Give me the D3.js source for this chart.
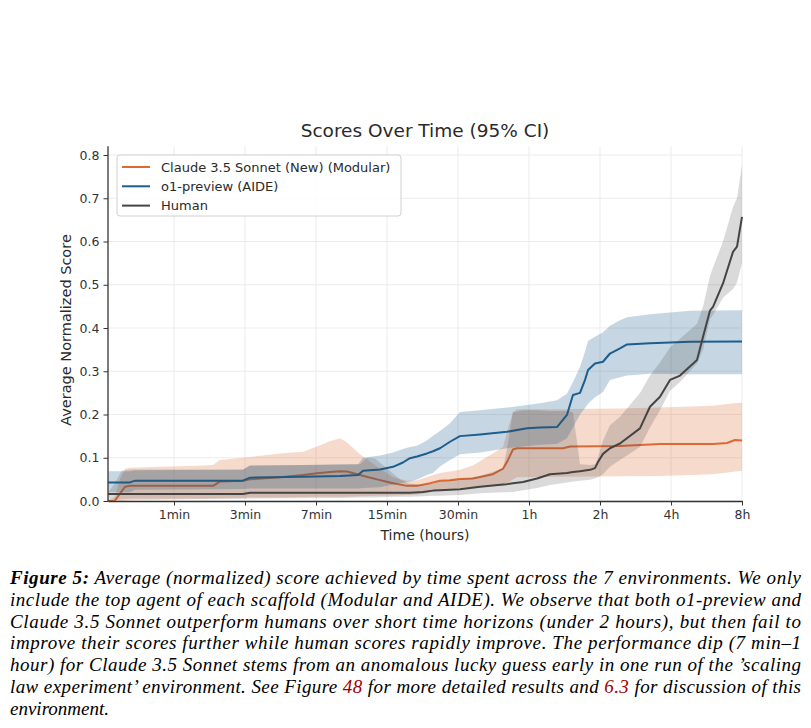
<!DOCTYPE html>
<html><head>
<meta charset="utf-8">
<title>Scores Over Time</title>
<script src="https://d3js.org/d3.v7.min.js"></script>
<style>
  body { margin: 0; background: #fff; }
  svg text { font-family: "DejaVu Sans", sans-serif; fill: #2a2a2a; }
  .grid line { stroke: #ebebeb; stroke-width: 1; }
  .axis .domain { stroke: #333; stroke-width: 1.3; }
  .axis line { stroke: #333; stroke-width: 1; }
  .axis text { font-size: 12.5px; fill: #333; }
  .caption text { font-family: "Liberation Serif", "Times New Roman", serif; font-style: italic; font-size: 19px; fill: #000; }
</style>
</head>
<body>
<svg id="chart" width="811" height="728"></svg>

<script>
// x: elapsed time in minutes, y: average normalized score with 95% CI
const claudeTime = [0.05, 0.12, 0.18, 0.24, 0.30, 0.74, 1.34, 1.93, 2.13, 2.92, 3.2, 4.63, 6.05, 7.08, 8.17,
  9.11, 9.83, 11.29, 13.5, 15.97, 18.45, 20.45, 23.35, 25.84, 28.6, 31.6, 36.0, 44.0, 48.7, 50.6,
  53.7, 55.9, 88.2, 94.5, 154.6, 228.9, 384.8, 441.3, 477.1, 511];
const claudeMean = [0, 0, 0.017, 0.033, 0.035, 0.035, 0.035, 0.035, 0.045, 0.047, 0.05, 0.055, 0.06, 0.064, 0.067,
  0.069, 0.068, 0.06, 0.05, 0.041, 0.035, 0.035, 0.041, 0.047, 0.048, 0.051, 0.052, 0.062, 0.075, 0.09,
  0.119, 0.122, 0.122, 0.126, 0.127, 0.132, 0.132, 0.134, 0.141, 0.14];
const claudeLow = [0, 0, 0, 0, 0.002, 0.003, 0.004, 0.005, 0.006, 0.007, 0.008, 0.008, 0.009, 0.01, 0.01,
  0.01, 0.01, 0.011, 0.012, 0.013, 0.014, 0.015, 0.02, 0.025, 0.028, 0.03, 0.031, 0.034, 0.036, 0.04,
  0.05, 0.055, 0.056, 0.056, 0.057, 0.058, 0.062, 0.066, 0.068, 0.07];
const claudeHigh = [0, 0.01, 0.05, 0.075, 0.077, 0.079, 0.081, 0.083, 0.095, 0.1, 0.102, 0.11, 0.114, 0.126, 0.138,
  0.145, 0.135, 0.108, 0.08, 0.055, 0.047, 0.048, 0.058, 0.065, 0.068, 0.072, 0.082, 0.11, 0.125, 0.16,
  0.205, 0.212, 0.212, 0.213, 0.214, 0.216, 0.22, 0.224, 0.226, 0.227];

const o1Time = [0.05, 0.30, 0.37, 2.92, 3.2, 6.05, 9.11, 11.06, 11.66, 13.94, 15.97, 17.7, 19.0, 20.45, 22.64,
  24.07, 25.84, 28.6, 31.6, 38.7, 50.6, 61.8, 70.3, 83.1, 91.7, 97.3, 104.3, 109.6, 112.9, 120.9,
  130.8, 140.1, 154.6, 165.6, 207.5, 307.3, 511];
const o1Mean = [0.043, 0.043, 0.047, 0.047, 0.054, 0.056, 0.058, 0.06, 0.07, 0.073, 0.079, 0.089, 0.099, 0.103, 0.11,
  0.115, 0.122, 0.137, 0.15, 0.154, 0.16, 0.168, 0.17, 0.171, 0.199, 0.245, 0.25, 0.28, 0.303, 0.318,
  0.322, 0.341, 0.353, 0.362, 0.365, 0.368, 0.369];
const o1Low = [0.02, 0.02, 0.026, 0.028, 0.029, 0.029, 0.029, 0.029, 0.03, 0.032, 0.038, 0.042, 0.045, 0.05, 0.06,
  0.065, 0.08, 0.095, 0.108, 0.112, 0.122, 0.127, 0.13, 0.132, 0.145, 0.17, 0.2, 0.215, 0.225, 0.24,
  0.252, 0.28, 0.286, 0.29, 0.294, 0.293, 0.293];
const o1High = [0.069, 0.069, 0.071, 0.072, 0.082, 0.083, 0.085, 0.085, 0.1, 0.105, 0.112, 0.12, 0.125, 0.128, 0.14,
  0.151, 0.162, 0.18, 0.206, 0.21, 0.216, 0.222, 0.226, 0.233, 0.248, 0.275, 0.31, 0.345, 0.37, 0.38,
  0.39, 0.405, 0.418, 0.425, 0.432, 0.44, 0.441];

const humanTime = [0.05, 0.12, 0.20, 0.30, 2.92, 3.2, 9.11, 11.29, 12.16, 13.23, 15, 17.17, 19.0, 21.74, 24.07,
  25.84, 31.6, 38.7, 48.7, 50.6, 53.7, 59.4, 68.2, 77.6, 91.7, 97.3, 104.3, 115.1, 120.9, 124.5,
  130.8, 140.1, 154.6, 188.1, 207.5, 228.9, 252.5, 278.6, 329, 349, 373.5, 384.8, 424.3, 467.9, 486.6, 511];
const humanMean = [0.016, 0.016, 0.016, 0.016, 0.016, 0.019, 0.019, 0.019, 0.019, 0.019, 0.019, 0.019, 0.019, 0.021, 0.024,
  0.025, 0.027, 0.033, 0.038, 0.039, 0.041, 0.044, 0.052, 0.062, 0.065, 0.067, 0.069, 0.072, 0.076, 0.09,
  0.109, 0.122, 0.133, 0.168, 0.218, 0.241, 0.28, 0.29, 0.326, 0.38, 0.44, 0.449, 0.503, 0.576, 0.588, 0.657];
const humanLow = [0, 0.002, 0.004, 0.005, 0.005, 0.006, 0.007, 0.008, 0.008, 0.008, 0.009, 0.01, 0.01, 0.011, 0.012,
  0.012, 0.014, 0.018, 0.02, 0.02, 0.021, 0.025, 0.03, 0.037, 0.043, 0.045, 0.047, 0.049, 0.052, 0.055,
  0.062, 0.079, 0.095, 0.125, 0.17, 0.21, 0.255, 0.275, 0.318, 0.35, 0.42, 0.43, 0.47, 0.49, 0.505, 0.55];
const humanHigh = [0.02, 0.04, 0.07, 0.073, 0.073, 0.082, 0.084, 0.085, 0.1, 0.098, 0.075, 0.05, 0.04, 0.038, 0.04,
  0.045, 0.05, 0.058, 0.075, 0.12, 0.205, 0.21, 0.21, 0.208, 0.208, 0.205, 0.085, 0.083, 0.085, 0.1,
  0.14, 0.175, 0.195, 0.25, 0.29, 0.32, 0.355, 0.375, 0.41, 0.45, 0.52, 0.54, 0.6, 0.68, 0.7, 0.777];

const seriesNames = ["Claude 3.5 Sonnet (New) (Modular)", "o1-preview (AIDE)", "Human"];
const seriesColors = ["#dd6a35", "#1b5e8f", "#444444"];

const xTickMinutes = [1, 3, 7, 15, 31, 63, 127, 255, 511];
const xTickLabels = ["1min", "3min", "7min", "15min", "30min", "1h", "2h", "4h", "8h"];
const yTicks = [0, 0.1, 0.2, 0.3, 0.4, 0.5, 0.6, 0.7, 0.8];

const captionLines = [
  [["Figure 5:", "b"], [" Average (normalized) score achieved by time spent across the 7 environments. We only", ""]],
  [["include the top agent of each scaffold (Modular and AIDE). We observe that both o1-preview and", ""]],
  [["Claude 3.5 Sonnet outperform humans over short time horizons (under 2 hours), but then fail to", ""]],
  [["improve their scores further while human scores rapidly improve. The performance dip (7 min\u20131", ""]],
  [["hour) for Claude 3.5 Sonnet stems from an anomalous lucky guess early in one run of the \u2019scaling", ""]],
  [["law experiment\u2019 environment. See Figure ", ""], ["48", "r"], [" for more detailed results and ", ""], ["6.3", "r"], [" for discussion of this", ""]],
  [["environment.", ""]]
];

const svg = d3.select("#chart");
const plotLeft = 108, plotRight = 742, plotTop = 146.35, plotBottom = 501;

// log2 of (minutes + 1) so that 1, 3, 7, 15 ... minutes are evenly spaced
const xScale = d3.scaleLog().base(2).domain([1.05, 512]).range([plotLeft, plotRight]);
const x = m => xScale(m + 1);
const yScale = d3.scaleLinear().domain([0, 0.82]).range([plotBottom, plotTop]);

// gridlines
const grid = svg.append("g").attr("class", "grid");
grid.selectAll(".gx").data(xTickMinutes).enter().append("line")
  .attr("x1", d => x(d)).attr("x2", d => x(d))
  .attr("y1", plotTop).attr("y2", plotBottom);
grid.selectAll(".gy").data(yTicks).enter().append("line")
  .attr("x1", plotLeft).attr("x2", plotRight)
  .attr("y1", d => yScale(d)).attr("y2", d => yScale(d));

const series = [
  { time: claudeTime, mean: claudeMean, low: claudeLow, high: claudeHigh },
  { time: o1Time, mean: o1Mean, low: o1Low, high: o1High },
  { time: humanTime, mean: humanMean, low: humanLow, high: humanHigh }
];
const bandOpacity = [0.25, 0.25, 0.2];

const area = d3.area()
  .x(d => x(d.t)).y0(d => yScale(d.lo)).y1(d => yScale(d.hi));
const line = d3.line()
  .x(d => x(d.t)).y(d => yScale(d.v));

const plot = svg.append("g");
series.forEach((s, i) => {
  const pts = s.time.map((t, j) => ({ t: t, v: s.mean[j], lo: s.low[j], hi: s.high[j] }));
  plot.append("path")
    .attr("d", area(pts))
    .attr("fill", seriesColors[i])
    .attr("fill-opacity", bandOpacity[i]);
  plot.append("path")
    .attr("d", line(pts))
    .attr("fill", "none")
    .attr("stroke", seriesColors[i])
    .attr("stroke-width", 2)
    .attr("stroke-linejoin", "round");
});

// axes
const xAxis = d3.axisBottom(xScale)
  .tickValues(xTickMinutes.map(m => m + 1))
  .tickFormat((d, i) => xTickLabels[i])
  .tickSizeInner(4.5).tickSizeOuter(0).tickPadding(5);
svg.append("g").attr("class", "axis")
  .attr("transform", "translate(0," + plotBottom + ")")
  .call(xAxis);

const yAxis = d3.axisLeft(yScale)
  .tickValues(yTicks).tickFormat(d3.format(".1f"))
  .tickSizeInner(4.5).tickSizeOuter(0).tickPadding(4);
const yg = svg.append("g").attr("class", "axis")
  .attr("transform", "translate(" + plotLeft + ",0)")
  .call(yAxis);
yg.select(".domain").attr("d", "M0," + plotTop + "V" + plotBottom);

// labels
svg.append("text")
  .attr("x", 425).attr("y", 137)
  .attr("text-anchor", "middle")
  .style("font-size", "18.5px")
  .text("Scores Over Time (95% CI)");
svg.append("text")
  .attr("x", 425).attr("y", 540)
  .attr("text-anchor", "middle")
  .style("font-size", "14px")
  .text("Time (hours)");
svg.append("text")
  .attr("transform", "translate(71,330) rotate(-90)")
  .attr("text-anchor", "middle")
  .style("font-size", "14.5px")
  .text("Average Normalized Score");

// legend
const legend = svg.append("g");
legend.append("rect")
  .attr("x", 117).attr("y", 155).attr("width", 284).attr("height", 61).attr("rx", 3)
  .attr("fill", "#fff").attr("fill-opacity", 0.85)
  .attr("stroke", "#d0d0d0");
seriesNames.forEach((name, i) => {
  const cy = 167 + i * 19.3;
  legend.append("line")
    .attr("x1", 122).attr("x2", 150).attr("y1", cy).attr("y2", cy)
    .attr("stroke", seriesColors[i]).attr("stroke-width", 2);
  legend.append("text")
    .attr("x", 161).attr("y", cy + 4.5)
    .style("font-size", "13px")
    .text(name);
});

// caption
const cap = svg.append("g").attr("class", "caption");
captionLines.forEach((parts, i) => {
  const t = cap.append("text")
    .attr("x", 10).attr("y", 584 + i * 21.8);
  if (i < captionLines.length - 1) {
    t.attr("textLength", 791).attr("lengthAdjust", "spacing");
  }
  parts.forEach(p => {
    const ts = t.append("tspan").text(p[0]);
    if (p[1] === "b") ts.style("font-weight", "bold");
    if (p[1] === "r") ts.style("fill", "#a00000");
  });
});
</script>
</body>
</html>
